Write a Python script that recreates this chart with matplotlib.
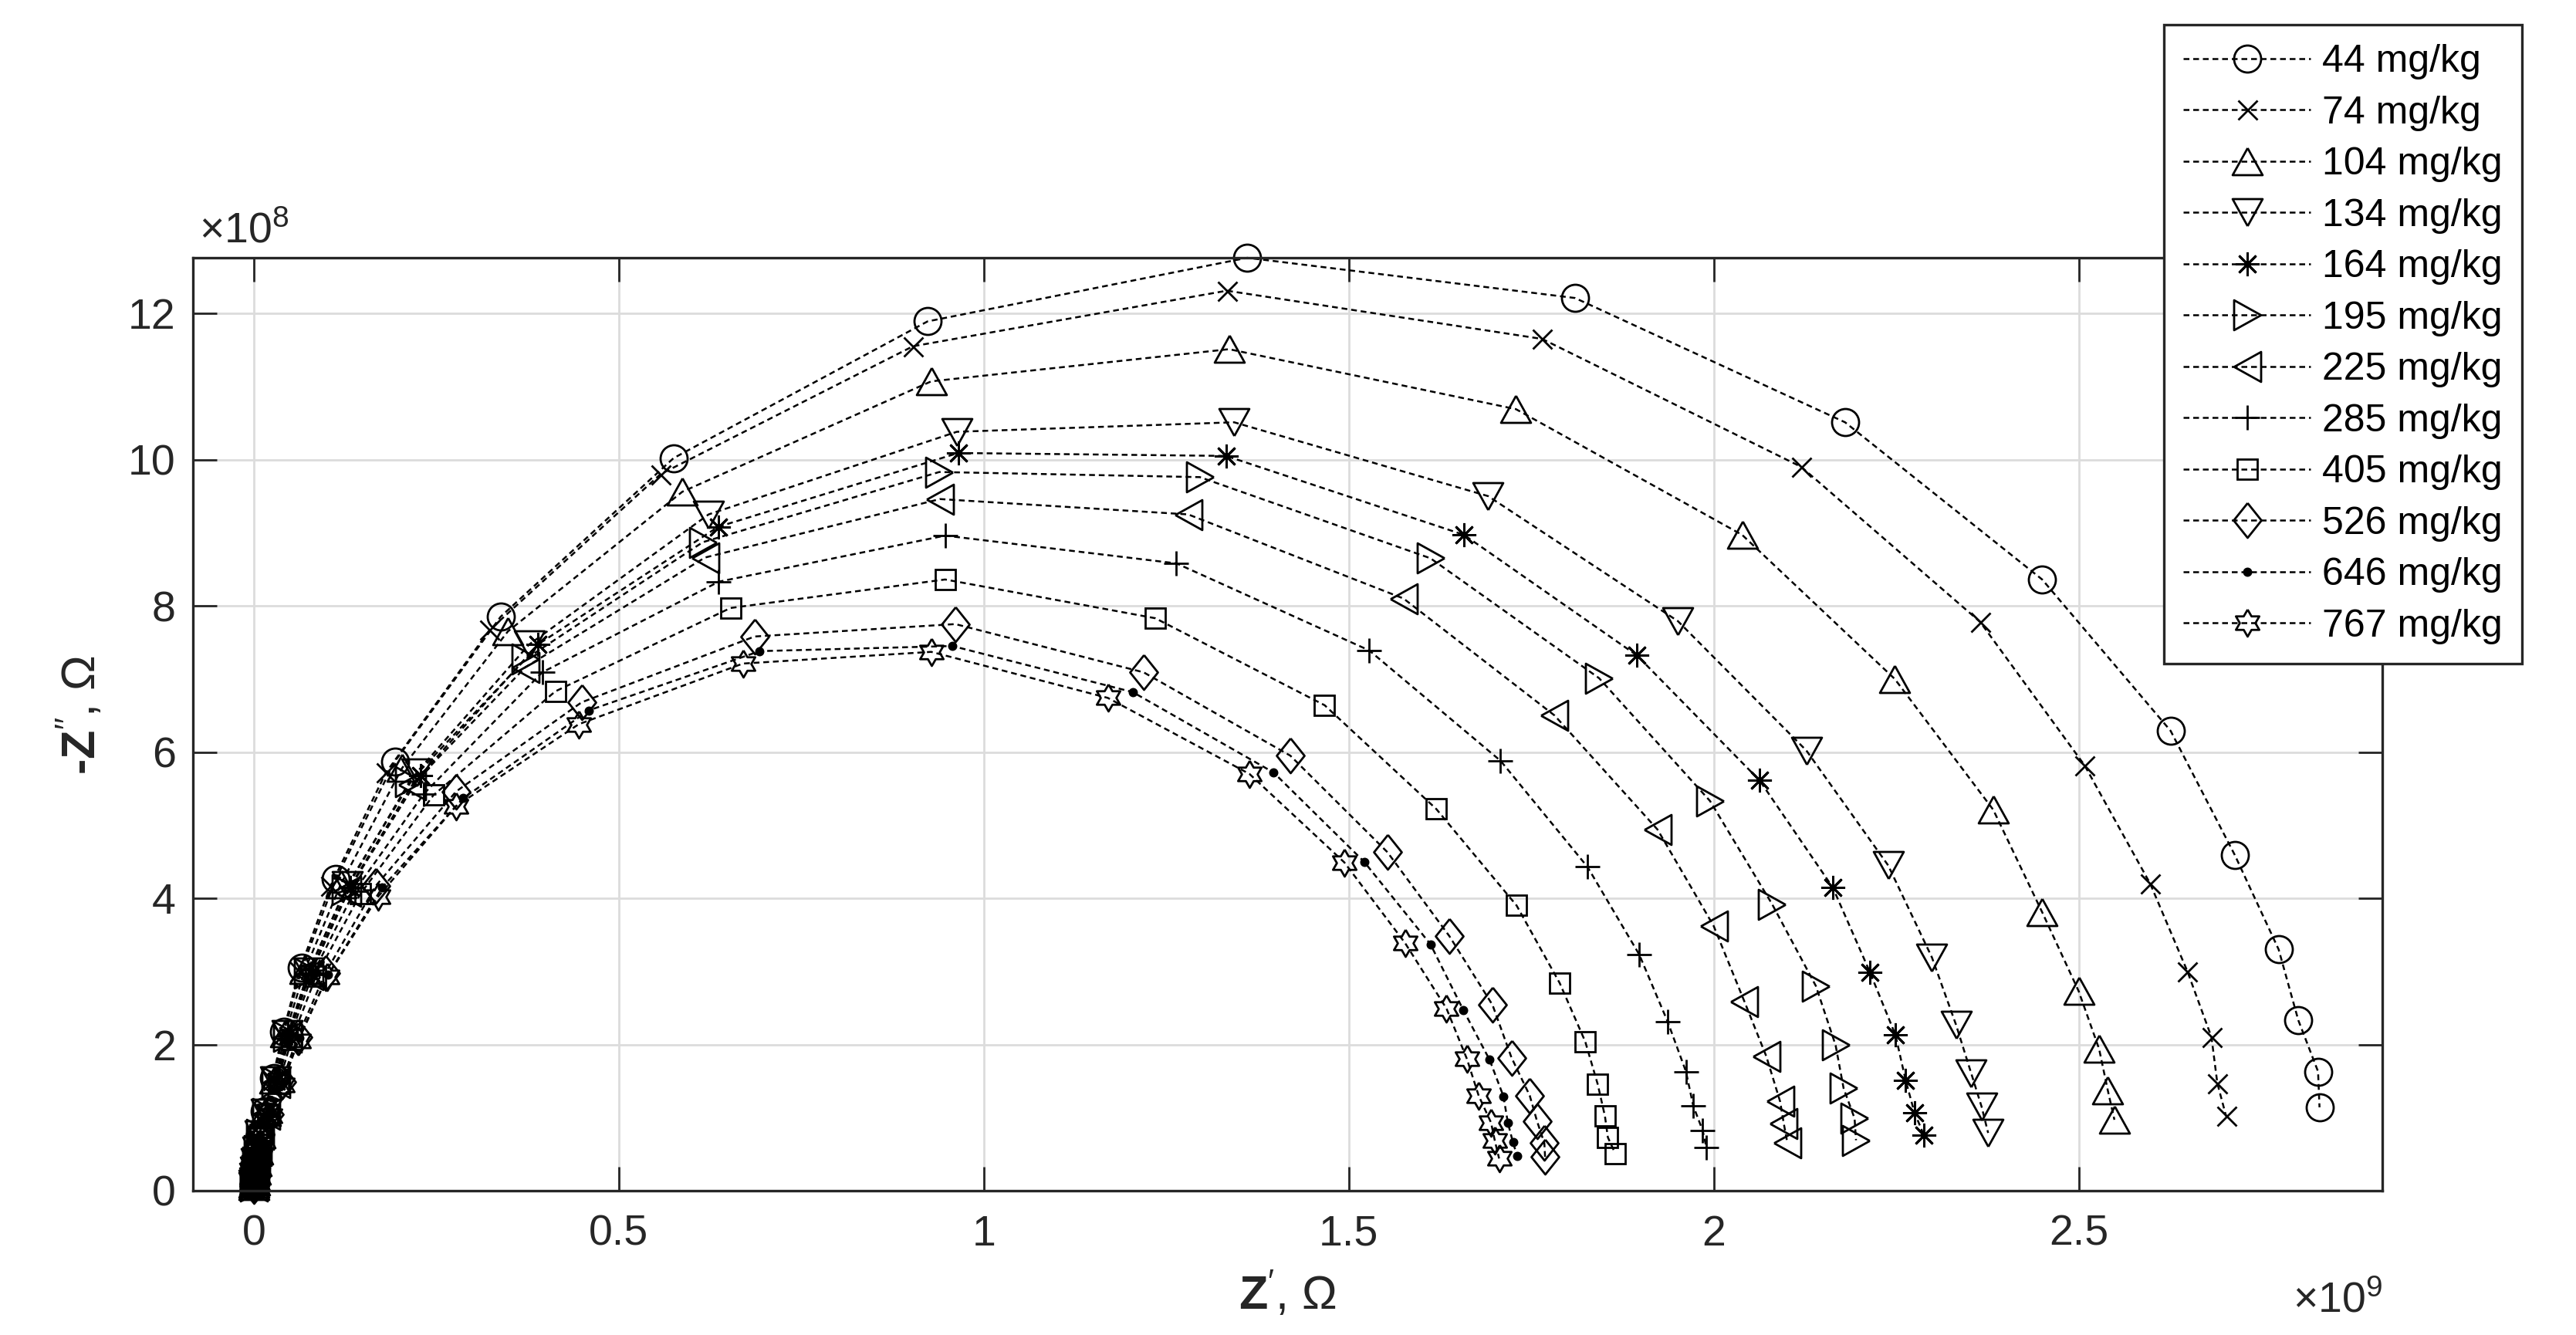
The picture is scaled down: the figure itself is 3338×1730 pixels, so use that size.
import matplotlib
matplotlib.use("Agg")
import matplotlib.pyplot as plt
import numpy as np

plt.rcParams["font.family"] = ["Liberation Sans", "DejaVu Sans"]
plt.rcParams["mathtext.fontset"] = "custom"
plt.rcParams["mathtext.rm"] = "Liberation Sans"
plt.rcParams["mathtext.bf"] = "Liberation Sans:bold"
plt.rcParams["mathtext.it"] = "Liberation Sans:italic"

# --- data: Z' in 1e9 Ohm, -Z'' in 1e8 Ohm ---
labels = ["44 mg/kg", "74 mg/kg", "104 mg/kg", "134 mg/kg", "164 mg/kg", "195 mg/kg",
          "225 mg/kg", "285 mg/kg", "405 mg/kg", "526 mg/kg", "646 mg/kg", "767 mg/kg"]

# high-frequency points, all series sit on top of each other near the origin
hf_re = [0.000, 0.000, 0.001, 0.001, 0.002, 0.003, 0.005, 0.008]
hf_im = [0.06, 0.09, 0.13, 0.19, 0.27, 0.39, 0.55, 0.77]

re_44 = [0.015, 0.027, 0.041, 0.066, 0.112, 0.193, 0.338, 0.575, 0.923, 1.361, 1.810, 2.180, 2.450, 2.626, 2.714, 2.774, 2.801, 2.828, 2.830]
im_44 = [1.09, 1.54, 2.17, 3.05, 4.26, 5.87, 7.85, 10.02, 11.89, 12.76, 12.21, 10.51, 8.36, 6.29, 4.59, 3.30, 2.33, 1.63, 1.14]
re_74 = [0.014, 0.025, 0.039, 0.062, 0.105, 0.181, 0.323, 0.557, 0.903, 1.333, 1.765, 2.120, 2.365, 2.508, 2.598, 2.649, 2.682, 2.690, 2.702]
im_74 = [1.07, 1.51, 2.13, 3.00, 4.17, 5.72, 7.67, 9.80, 11.55, 12.31, 11.65, 9.90, 7.78, 5.82, 4.20, 3.00, 2.10, 1.47, 1.02]
re_104 = [0.016, 0.029, 0.043, 0.070, 0.119, 0.203, 0.348, 0.587, 0.928, 1.336, 1.729, 2.039, 2.248, 2.383, 2.450, 2.500, 2.528, 2.540, 2.549]
im_104 = [1.08, 1.52, 2.15, 3.02, 4.19, 5.78, 7.65, 9.56, 11.07, 11.51, 10.69, 8.97, 7.00, 5.21, 3.81, 2.73, 1.94, 1.37, 0.97]
re_134 = [0.017, 0.030, 0.046, 0.075, 0.128, 0.223, 0.377, 0.623, 0.963, 1.343, 1.691, 1.951, 2.127, 2.239, 2.299, 2.332, 2.353, 2.367, 2.376]
im_134 = [1.07, 1.51, 2.14, 3.00, 4.18, 5.72, 7.47, 9.25, 10.38, 10.51, 9.50, 7.79, 6.02, 4.45, 3.19, 2.27, 1.60, 1.15, 0.79]
re_164 = [0.017, 0.031, 0.047, 0.078, 0.132, 0.228, 0.389, 0.636, 0.965, 1.332, 1.658, 1.895, 2.063, 2.163, 2.214, 2.249, 2.263, 2.275, 2.288]
im_164 = [1.06, 1.50, 2.12, 2.98, 4.15, 5.68, 7.47, 9.08, 10.09, 10.05, 8.97, 7.32, 5.61, 4.15, 2.99, 2.13, 1.51, 1.07, 0.76]
re_195 = [0.017, 0.030, 0.046, 0.074, 0.126, 0.213, 0.372, 0.615, 0.939, 1.296, 1.612, 1.843, 1.995, 2.080, 2.140, 2.167, 2.178, 2.193, 2.195]
im_195 = [1.06, 1.49, 2.11, 2.98, 4.12, 5.59, 7.27, 8.87, 9.83, 9.76, 8.65, 7.01, 5.33, 3.92, 2.80, 1.99, 1.40, 0.99, 0.69]
re_225 = [0.017, 0.031, 0.047, 0.076, 0.128, 0.217, 0.372, 0.618, 0.940, 1.280, 1.575, 1.782, 1.923, 2.000, 2.042, 2.072, 2.091, 2.096, 2.101]
im_225 = [1.05, 1.48, 2.10, 2.96, 4.10, 5.55, 7.16, 8.66, 9.46, 9.25, 8.10, 6.50, 4.94, 3.62, 2.59, 1.84, 1.22, 0.92, 0.65]
re_285 = [0.018, 0.032, 0.049, 0.080, 0.138, 0.233, 0.395, 0.637, 0.947, 1.264, 1.528, 1.708, 1.827, 1.898, 1.937, 1.962, 1.972, 1.985, 1.990]
im_285 = [1.05, 1.48, 2.09, 2.95, 4.10, 5.43, 7.09, 8.33, 8.96, 8.58, 7.39, 5.88, 4.43, 3.23, 2.31, 1.63, 1.16, 0.82, 0.59]
re_405 = [0.019, 0.034, 0.052, 0.085, 0.146, 0.246, 0.413, 0.653, 0.947, 1.235, 1.467, 1.620, 1.730, 1.789, 1.824, 1.841, 1.851, 1.855, 1.865]
im_405 = [1.04, 1.47, 2.07, 2.93, 4.06, 5.41, 6.83, 7.97, 8.36, 7.83, 6.64, 5.22, 3.90, 2.84, 2.04, 1.46, 1.02, 0.73, 0.51]
re_526 = [0.021, 0.038, 0.060, 0.098, 0.167, 0.277, 0.449, 0.686, 0.961, 1.219, 1.420, 1.553, 1.638, 1.697, 1.723, 1.748, 1.758, 1.768, 1.769]
im_526 = [1.05, 1.49, 2.10, 2.98, 4.17, 5.46, 6.68, 7.58, 7.75, 7.09, 5.95, 4.63, 3.48, 2.54, 1.82, 1.30, 0.95, 0.65, 0.46]
re_646 = [0.022, 0.040, 0.062, 0.102, 0.176, 0.287, 0.459, 0.693, 0.957, 1.204, 1.397, 1.521, 1.612, 1.657, 1.693, 1.712, 1.718, 1.725, 1.731]
im_646 = [1.04, 1.48, 2.09, 2.96, 4.15, 5.37, 6.57, 7.38, 7.45, 6.82, 5.72, 4.50, 3.37, 2.47, 1.79, 1.29, 0.93, 0.66, 0.47]
re_767 = [0.022, 0.039, 0.061, 0.100, 0.170, 0.277, 0.445, 0.670, 0.928, 1.170, 1.364, 1.494, 1.577, 1.634, 1.662, 1.678, 1.695, 1.700, 1.706]
im_767 = [1.02, 1.45, 2.05, 2.92, 4.02, 5.26, 6.38, 7.21, 7.37, 6.74, 5.70, 4.49, 3.39, 2.49, 1.80, 1.30, 0.93, 0.69, 0.44]

re_all = [re_44, re_74, re_104, re_134, re_164, re_195, re_225, re_285, re_405, re_526, re_646, re_767]
im_all = [im_44, im_74, im_104, im_134, im_164, im_195, im_225, im_285, im_405, im_526, im_646, im_767]

# --- MATLAB-like marker shapes ---
def closed(v):
    return v + [v[0]]

tri_up = closed([(0, 0.9), (-1, -0.9), (1, -0.9)])
tri_down = closed([(0, -0.9), (-1, 0.9), (1, 0.9)])
tri_right = closed([(0.9, 0), (-0.9, 1), (-0.9, -1)])
tri_left = closed([(-0.9, 0), (0.9, 1), (0.9, -1)])
diamond = closed([(0, 1), (0.8, 0), (0, -1), (-0.8, 0)])
k = np.arange(12)
ang = np.deg2rad(90 + 30 * k)
rad = np.where(k % 2 == 0, 1.0, 1 / np.sqrt(3))
hexagram = closed(list(zip(rad * np.cos(ang), rad * np.sin(ang))))

markers = ["o", "x", tri_up, tri_down, (8, 2, 0), tri_right, tri_left, "+", "s", diamond, "o", hexagram]
msizes = [12.6, 9.0, 14.0, 14.0, 11.2, 14.0, 14.0, 11.5, 9.7, 16.2, 3.3, 12.6]

fig = plt.figure(figsize=(16.69, 8.65), dpi=200)
ax = fig.add_axes([0.0749, 0.1081, 0.8499, 0.6988])

for re, im, lab, mk, ms in zip(re_all, im_all, labels, markers, msizes):
    face = "black" if lab == "646 mg/kg" else "none"
    ax.plot(hf_re + re, hf_im + im, linestyle=(0, (3, 2)), color="black", lw=0.9,
            marker=mk, ms=ms, mfc=face, mec="black", mew=1.0, label=lab, clip_on=False)

ax.set_xlim(-0.0835, 2.916)
ax.set_ylim(0, 12.76)
ax.set_xticks([0, 0.5, 1, 1.5, 2, 2.5])
ax.set_xticklabels(["0", "0.5", "1", "1.5", "2", "2.5"])
ax.set_yticks([0, 2, 4, 6, 8, 10, 12])
ax.set_yticklabels(["0", "2", "4", "6", "8", "10", "12"])
ax.tick_params(direction="in", top=True, right=True, length=11, width=1.0,
               labelsize=20, colors="#262626")
ax.tick_params(axis="x", pad=11)
ax.tick_params(axis="y", pad=8)
ax.grid(True, color="#dcdcdc", lw=1.0)
ax.set_axisbelow(True)
for sp in ax.spines.values():
    sp.set_color("#262626")
    sp.set_linewidth(1.2)

ax.set_xlabel(r"$\mathbf{Z}'$, Ω", fontsize=22, color="#262626")
ax.xaxis.set_label_coords(0.5, -0.085)
ax.set_ylabel("$\\mathbf{\u2010Z}''$, Ω", fontsize=22, color="#262626")
ax.yaxis.set_label_coords(-0.040, 0.51)

fig.text(0.0773, 0.811, r"$\times10^{8}$", fontsize=20, color="#262626", ha="left", va="bottom")
fig.text(0.925, 0.010, r"$\times10^{9}$", fontsize=20, color="#262626", ha="right", va="bottom")

leg = ax.legend(loc="upper right", bbox_to_anchor=(0.9790, 0.9815), bbox_transform=fig.transFigure,
                borderaxespad=0, fancybox=False, edgecolor="#262626", framealpha=1,
                fontsize=18, handlelength=3.3, handletextpad=0.3, labelspacing=0.41,
                borderpad=0.5, numpoints=1)
leg.get_frame().set_linewidth(1.2)

fig.savefig("out.png", dpi=200)
